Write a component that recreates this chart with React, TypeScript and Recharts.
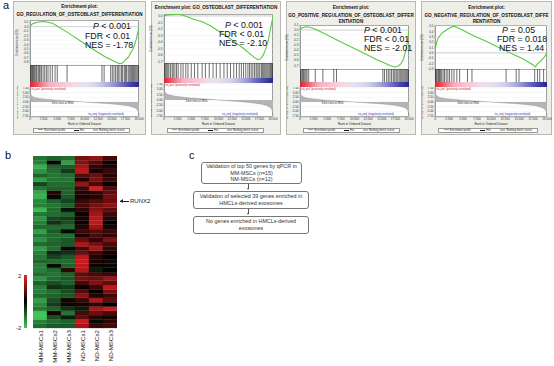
import React from 'react';
import {
  LineChart, Line, XAxis, YAxis, ReferenceLine, AreaChart, Area,
  BarChart, Bar, Cell, CartesianGrid,
} from 'recharts';

// ---------------- DATA ----------------
const rankTicks = [0, 2500, 5000, 7500, 10000, 12500, 15000, 17500, 20000];
const rankYTicks = [7.5, 5, 2.5, 0, -2.5, -5, -7.5];

const rankedMetric: [number, number][] = [
  [0, 7.2], [60, 5.0], [150, 4.0], [350, 3.2], [700, 2.6], [1200, 2.2], [2000, 1.8],
  [3000, 1.5], [4000, 1.2], [5000, 1.0], [6000, 0.8], [7000, 0.6], [8000, 0.4],
  [9000, 0.2], [9950, 0], [11000, -0.2], [12000, -0.4], [13000, -0.6], [14000, -0.8],
  [15000, -1.0], [16000, -1.3], [17000, -1.6], [18000, -2.0], [18800, -2.6],
  [19400, -3.3], [19800, -4.5], [19950, -6.0], [20000, -7.5],
];

const es1: [number, number][] = [
  [0, 0], [150, 0.03], [400, 0.06], [800, 0.08], [1300, 0.1], [2000, 0.11], [2600, 0.115],
  [3300, 0.1], [4200, 0.07], [5200, 0.0], [6500, -0.1], [7800, -0.2], [9000, -0.3],
  [10200, -0.4], [11500, -0.5], [12800, -0.6], [14000, -0.69], [15000, -0.75],
  [15800, -0.8], [16400, -0.83], [16900, -0.82], [17300, -0.78], [17700, -0.72],
  [18100, -0.68], [18500, -0.58], [18900, -0.5], [19200, -0.4], [19500, -0.28],
  [19750, -0.15], [20000, 0.0],
];
const es2: [number, number][] = [
  [0, 0], [400, 0.01], [1200, 0.02], [2500, 0.025], [3500, 0.01], [4500, -0.02],
  [5500, -0.05], [7000, -0.09], [8500, -0.15], [10000, -0.23], [11500, -0.31],
  [13000, -0.4], [14500, -0.49], [15500, -0.56], [16500, -0.63], [17200, -0.67],
  [17700, -0.66], [18200, -0.6], [18700, -0.5], [19100, -0.38], [19500, -0.22],
  [19800, -0.09], [20000, 0],
];
const es3: [number, number][] = [
  [0, 0], [200, 0.03], [600, 0.05], [1100, 0.065], [1600, 0.06], [2500, 0.03],
  [3500, -0.02], [5000, -0.1], [6500, -0.18], [8000, -0.26], [9500, -0.34],
  [11000, -0.42], [12500, -0.5], [14000, -0.58], [15500, -0.65], [16500, -0.7],
  [17300, -0.73], [17900, -0.72], [18400, -0.68], [18900, -0.6], [19300, -0.45],
  [19600, -0.3], [19850, -0.12], [20000, 0],
];
const es4: [number, number][] = [
  [0, 0], [100, 0.1], [300, 0.2], [600, 0.28], [1000, 0.34], [1500, 0.39], [2100, 0.43],
  [2700, 0.47], [3200, 0.49], [3600, 0.49], [5000, 0.42], [6500, 0.34], [8000, 0.27],
  [9500, 0.2], [11000, 0.12], [12500, 0.05], [14000, -0.03], [15500, -0.1],
  [16800, -0.18], [17600, -0.23], [17950, -0.26], [18300, -0.2], [18800, -0.16],
  [19300, -0.1], [19700, -0.05], [20000, 0],
];

const hits1 = [50, 180, 350, 420, 600, 750, 900, 1100, 1250, 1500, 1700, 1850, 2100, 2400,
  2700, 3000, 3300, 3700, 4100, 4600, 5000, 6800, 13200, 13600, 14800, 15100, 15400, 15700,
  16000, 16200, 16500, 16800, 17000, 17300, 17500, 17700, 18000, 18200, 18400, 18600, 18800,
  19000, 19200, 19400, 19600, 19800, 19950];
const hits2 = [100, 300, 500, 700, 900, 1200, 1500, 1700, 2000, 2300, 2600, 3100, 3500, 4000,
  4400, 5000, 5600, 6200, 7000, 7600, 8300, 9000, 9600, 10300, 11000, 11600, 12200, 12800,
  13300, 13800, 14200, 14600, 15000, 15400, 15700, 16000, 16300, 16600, 16900, 17100, 17400,
  17600, 17900, 18100, 18300, 18500, 18700, 18900, 19100, 19300, 19500, 19650, 19800, 19950];
const hits3 = [50, 200, 400, 550, 700, 900, 1100, 1300, 1600, 2800, 4200, 6200, 6700, 15200,
  15500, 15900, 16200, 16500, 16800, 17100, 17300, 17600, 17800, 18000, 18300, 18500, 18700,
  18900, 19100, 19300, 19500, 19700, 19900];
const hits4 = [40, 150, 300, 500, 650, 800, 1000, 1200, 1450, 1700, 2000, 2300, 2600, 3000,
  3400, 3900, 4400, 5800, 6600, 12700, 14500, 15000, 17800, 18300, 18700, 19400];

const esTicks1 = [0.1, 0, -0.1, -0.2, -0.3, -0.4, -0.5, -0.6, -0.7, -0.8];
const esTicks2 = [0, -0.1, -0.2, -0.3, -0.4, -0.5, -0.6, -0.7];
const esTicks3 = [0.1, 0, -0.1, -0.2, -0.3, -0.4, -0.5, -0.6, -0.7];
const esTicks4 = [0.5, 0.4, 0.3, 0.2, 0.1, 0, -0.1, -0.2, -0.3];

const titles1 = ['Enrichment plot:', 'GO_REGULATION_OF_OSTEOBLAST_DIFFERENTIATION'];
const titles2 = ['Enrichment plot: GO_OSTEOBLAST_DIFFERENTIATION'];
const titles3 = ['Enrichment plot:', 'GO_POSITIVE_REGULATION_OF_OSTEOBLAST_DIFFER', 'ENTIATION'];
const titles4 = ['Enrichment plot:', 'GO_NEGATIVE_REGULATION_OF_OSTEOBLAST_DIFFE', 'RENTIATION'];

const stats1 = ['P < 0.001', 'FDR < 0.01', 'NES = -1.78'];
const stats2 = ['P < 0.001', 'FDR < 0.01', 'NES = -2.10'];
const stats3 = ['P < 0.001', 'FDR < 0.01', 'NES = -2.01'];
const stats4 = ['P = 0.05', 'FDR = 0.018', 'NES = 1.44'];

const heatColumns = ['MM-MSCs1', 'MM-MSCs2', 'MM-MSCs3', 'ND-MSCs1', 'ND-MSCs2', 'ND-MSCs3'];
const heatRows: number[][] = [
  [-1.2, -1.0, -1.1, 1.0, 1.2, 0.6],
  [-1.3, -0.1, -1.6, 1.1, 0.7, 0.1],
  [-1.8, -1.0, -0.9, 1.4, 0.4, 0.2],
  [-1.5, -1.1, -0.6, 1.6, 0.2, 0.5],
  [-1.0, -1.2, -1.1, 0.7, 0.9, 0.3],
  [-1.6, -1.2, -1.2, 0.2, 1.0, 0.5],
  [-0.7, -1.1, -1.1, 1.3, 0.6, 0.1],
  [-1.2, -1.0, -1.0, 0.5, 1.8, 0.7],
  [-1.7, 0.3, -1.0, 0.3, 0.4, 0.8],
  [-1.8, -0.1, -0.9, 0.2, 0.3, 1.0],
  [-1.4, -1.0, -0.7, 0.5, 0.7, 0.9],
  [-1.3, -1.2, -1.0, 0.6, 1.0, 1.2],
  [-1.9, -1.1, -0.2, 0.4, 1.1, 0.8],
  [-1.2, -1.1, -1.0, 0.1, 1.4, 0.5],
  [-1.5, -0.7, -0.6, 0.2, 1.5, 0.3],
  [-1.3, -0.5, -0.8, 0.1, 1.6, 0.0],
  [-1.1, -1.1, -1.1, 0.3, 1.3, 0.2],
  [-1.6, -0.9, -0.1, 0.5, 0.7, 0.5],
  [-1.2, -1.1, -1.1, 0.2, 0.6, 0.4],
  [-1.5, -1.1, -0.9, 0.9, 0.4, 1.1],
  [-1.1, -1.0, -0.9, 1.5, 1.0, 0.6],
  [-1.6, -1.1, -0.1, 0.6, 1.4, 0.4],
  [-1.3, -0.4, -0.5, 0.9, 0.5, 0.2],
  [-1.2, -0.7, -0.9, 1.6, 0.3, 0.0],
  [-1.0, -1.1, -1.1, 1.7, 0.2, 0.2],
  [-1.3, -0.1, -1.0, 1.6, 0.1, -0.1],
  [-1.3, -1.1, 0.4, 1.5, -0.3, 0.0],
  [-1.1, -1.2, -1.0, 0.8, 0.6, 0.5],
  [-1.5, -1.1, -0.9, 1.0, 0.9, 1.3],
  [-1.0, -0.8, -1.0, 0.6, 1.1, 0.8],
  [-1.3, -0.5, -0.6, 0.1, 0.5, 1.6],
  [-1.3, -1.1, -0.8, 0.7, 0.0, 1.0],
  [-1.1, -1.0, -0.9, 1.2, 0.3, 0.5],
  [-1.6, -0.8, 0.2, 0.5, 1.5, 0.8],
  [-1.4, -0.6, -0.1, 0.2, 0.4, 0.0],
  [-1.2, -1.0, -0.5, -0.3, 1.4, 1.7],
  [-2.0, 0.2, -1.2, 0.6, 0.9, 0.6],
  [-2.0, -0.8, -0.3, 0.8, 0.3, 0.2],
  [-1.3, -1.1, -1.0, 1.7, -0.1, 0.4],
  [-1.1, -0.9, -0.9, 1.4, 0.5, 0.6],
];
const heatScale = ['2', '-2'];
const markedGene = 'RUNX2';
const markedRow = 10;

const flowSteps = [
  ['Validation of top 50 genes by qPCR in', 'MM-MSCs (n=15)', 'NM-MSCs (n=12)'],
  ['Validation of selected 39 genes enriched in', 'HMCLs-derived exosomes'],
  ['No genes enriched in HMCLs-derived', 'exosomes'],
];

// ---------------- LAYOUT ----------------
const FONT = "'Liberation Sans', Arial, Helvetica, sans-serif";

type Panel = {
  box: { x: number; y: number; w: number; h: number };
  titles: string[]; titleY: number[];
  plotL: number; plotR: number;
  esTop: number; esBot: number; hitBot: number; barBot: number; rankBot: number;
  es: [number, number][]; hits: number[]; esDomain: [number, number]; esTicks: number[];
  stats: string[]; statPos: [number, number][];
};

const panels: Panel[] = [
  {
    box: { x: 13, y: 1, w: 133, h: 134 }, titles: titles1, titleY: [6, 14],
    plotL: 30, plotR: 139, esTop: 20, esBot: 65, hitBot: 82, barBot: 87, rankBot: 117,
    es: es1, hits: hits1, esDomain: [-0.86, 0.15], esTicks: esTicks1,
    stats: stats1, statPos: [[93, 23], [85, 33], [85, 42]],
  },
  {
    box: { x: 151, y: 1, w: 130, h: 134 }, titles: titles2, titleY: [7],
    plotL: 164, plotR: 273, esTop: 14, esBot: 63, hitBot: 78, barBot: 83, rankBot: 117,
    es: es2, hits: hits2, esDomain: [-0.72, 0.03], esTicks: esTicks2,
    stats: stats2, statPos: [[225, 22], [219, 31], [219, 40]],
  },
  {
    box: { x: 286, y: 1, w: 130, h: 134 }, titles: titles3, titleY: [7, 15, 21],
    plotL: 300, plotR: 409, esTop: 25, esBot: 69, hitBot: 82, barBot: 87, rankBot: 117,
    es: es3, hits: hits3, esDomain: [-0.77, 0.1], esTicks: esTicks3,
    stats: stats3, statPos: [[364, 27], [364, 36], [364, 45]],
  },
  {
    box: { x: 421, y: 1, w: 131, h: 134 }, titles: titles4, titleY: [7, 15, 21],
    plotL: 435, plotR: 547, esTop: 25, esBot: 69, hitBot: 82, barBot: 87, rankBot: 117,
    es: es4, hits: hits4, esDomain: [-0.3, 0.52], esTicks: esTicks4,
    stats: stats4, statPos: [[502, 27], [497, 36], [499, 45]],
  },
];

const AW = 14;
const RPAD = 8;
const VPAD = 2;
const STAT_FS = 8.8;
const fmtRank = (v: number) => (v === 0 ? '0' : v.toLocaleString('en-US'));
const rankedData = rankedMetric.map(([rank, score]) => ({ rank, score }));
const flatLine = [{ rank: 0, v: 0 }, { rank: 20000, v: 0 }];

const abs = (x: number, y: number, extra: React.CSSProperties = {}): React.CSSProperties => ({
  position: 'absolute', left: x, top: y, ...extra,
});

function GseaPanel({ p }: { p: Panel }) {
  const pw = p.plotR - p.plotL;
  const esData = p.es.map(([rank, es]) => ({ rank, es }));
  const tickStyle = { fontSize: 3, fill: '#333', fontFamily: FONT };
  return (
    <>
      <div style={abs(p.box.x, p.box.y, {
        width: p.box.w, height: p.box.h, background: '#efefe9',
        border: '0.6px solid #b8b8b0', boxSizing: 'border-box',
      })} />
      {p.titles.map((t, i) => (
        <div key={i} style={abs(p.box.x - 10, p.titleY[i] - 2.5, {
          width: p.box.w + 20, textAlign: 'center', fontSize: 4.6, lineHeight: '5px',
          fontWeight: 'bold', whiteSpace: 'nowrap', color: '#111',
        })}>{t}</div>
      ))}
      {/* plot frame */}
      <div style={abs(p.plotL, p.esTop, {
        width: pw, height: p.rankBot - p.esTop, background: '#fff',
        border: '0.5px solid #999', boxSizing: 'border-box',
      })} />
      <div style={abs(p.plotL, p.esBot, { width: pw, height: 0, borderTop: '0.5px solid #999' })} />
      <div style={abs(p.plotL, p.hitBot, {
        width: pw, height: p.barBot - p.hitBot,
        background: 'linear-gradient(to right, #d9262e 0%, #e8545e 6%, #f08a98 12%, #f3b3c6 18%, #f5c8d6 30%, #efdbe6 40%, #e4e2ef 50%, #d6d4ec 60%, #bcbce2 68%, #9a9ad4 76%, #6e6ec0 84%, #4545a8 92%, #26268e 100%)',
      })} />
      {/* ES */}
      <div style={abs(p.plotL - AW, p.esTop - VPAD)}>
        <LineChart width={pw + AW} height={p.esBot - p.esTop + 2 * VPAD} data={esData}
          margin={{ top: VPAD, right: 0, bottom: VPAD, left: 0 }}>
          <CartesianGrid stroke="#ececec" strokeWidth={0.4} vertical={false} />
          <XAxis type="number" dataKey="rank" domain={[0, 20000]} hide allowDataOverflow />
          <YAxis type="number" width={AW} domain={p.esDomain} ticks={p.esTicks} interval={0}
            tick={tickStyle} tickSize={1} tickMargin={0.5} stroke="#888" strokeWidth={0.4}
            tickFormatter={(v: number) => v.toFixed(1)} allowDataOverflow />
          <ReferenceLine y={0} stroke="#aaa" strokeWidth={0.5} />
          <Line type="linear" dataKey="es" stroke="#5cc843" strokeWidth={1.1} dot={false}
            isAnimationActive={false} />
        </LineChart>
      </div>
      <div style={abs(p.plotL - 13.5, (p.esTop + p.esBot) / 2 - 1.5, {
        width: 0, height: 3, overflow: 'visible',
      })}>
        <div style={{
          transform: 'translate(-50%, 0) rotate(-90deg)', fontSize: 2.6, whiteSpace: 'nowrap',
          color: '#333', lineHeight: '3px', width: 'max-content',
        }}>Enrichment score (ES)</div>
      </div>
      {/* hits */}
      <div style={abs(p.plotL, p.esBot)}>
        <LineChart width={pw} height={p.hitBot - p.esBot} data={flatLine}
          margin={{ top: 0, right: 0, bottom: 0, left: 0 }}>
          <XAxis type="number" dataKey="rank" domain={[0, 20000]} hide />
          <YAxis hide domain={[0, 1]} />
          <Line dataKey="v" stroke="none" dot={false} isAnimationActive={false} />
          {p.hits.map((h) => (
            <ReferenceLine key={h} x={h} stroke="#111" strokeWidth={0.6} />
          ))}
        </LineChart>
      </div>
      {/* ranked metric */}
      <div style={abs(p.plotL - AW, p.barBot)}>
        <AreaChart width={pw + AW + RPAD} height={p.rankBot - p.barBot + 5} data={rankedData}
          margin={{ top: 0, right: RPAD, bottom: 0, left: 0 }}>
          <CartesianGrid stroke="#ececec" strokeWidth={0.4} vertical={false} />
          <XAxis type="number" dataKey="rank" domain={[0, 20000]} ticks={rankTicks} interval={0}
            height={5} tick={tickStyle} tickSize={1} tickMargin={0.3} stroke="#888"
            strokeWidth={0.4} tickFormatter={fmtRank} />
          <YAxis type="number" width={AW} domain={[-8, 8]} ticks={rankYTicks} interval={0}
            tick={tickStyle} tickSize={1} tickMargin={0.5} stroke="#888" strokeWidth={0.4}
            tickFormatter={(v: number) => v.toFixed(2)} />
          <Area type="linear" dataKey="score" stroke="#8a8a8a" strokeWidth={0.4}
            fill="#b4b4b4" fillOpacity={1} isAnimationActive={false} />
        </AreaChart>
      </div>
      <div style={abs(p.plotL - 13.5, (p.barBot + p.rankBot) / 2 - 1.5, {
        width: 0, height: 3, overflow: 'visible',
      })}>
        <div style={{
          transform: 'translate(-50%, 0) rotate(-90deg)', fontSize: 2.4, whiteSpace: 'nowrap',
          color: '#333', lineHeight: '3px', width: 'max-content',
        }}>Ranked list metric (PreRanked)</div>
      </div>
      <div style={abs(p.plotL + 1, p.barBot + 0.5, {
        fontSize: 2.6, color: '#d02020', whiteSpace: 'nowrap', lineHeight: '3px',
      })}>'na_pos' (positively correlated)</div>
      <div style={abs(p.plotL + pw * 0.2, (p.barBot + p.rankBot) / 2 - 0.5, {
        fontSize: 2.6, color: '#222', whiteSpace: 'nowrap', lineHeight: '3px',
      })}>Zero cross at 9950</div>
      <div style={abs(p.plotL + pw * 0.53, p.rankBot - 4, {
        fontSize: 2.6, color: '#2030c0', whiteSpace: 'nowrap', lineHeight: '3px',
      })}>'na_neg' (negatively correlated)</div>
      <div style={abs(p.plotL, p.rankBot + 5.5, {
        width: pw, textAlign: 'center', fontSize: 3, color: '#222', lineHeight: '3px',
      })}>Rank in Ordered Dataset</div>
      {/* legend */}
      <div style={abs(p.plotL + 3, 127.5, {
        width: pw - 12, height: 5, background: '#fff', border: '0.5px solid #999',
        boxSizing: 'border-box', display: 'flex', alignItems: 'center',
        justifyContent: 'space-around', fontSize: 2.6, color: '#222', whiteSpace: 'nowrap',
      })}>
        <span><span style={{ display: 'inline-block', width: 5, height: 0.8, background: '#5cc843', verticalAlign: 'middle', marginRight: 1 }} />Enrichment profile</span>
        <span><span style={{ display: 'inline-block', width: 5, height: 0.5, background: '#111', verticalAlign: 'middle', marginRight: 1 }} />Hits</span>
        <span><span style={{ display: 'inline-block', width: 5, height: 1.5, background: '#bbb', verticalAlign: 'middle', marginRight: 1 }} />Ranking metric scores</span>
      </div>
      {/* stats */}
      {p.stats.map((s, i) => {
        const [x, y] = p.statPos[i];
        const isP = s.startsWith('P ');
        return (
          <div key={i} style={abs(x, y - 1.2, {
            fontSize: STAT_FS, lineHeight: `${STAT_FS}px`, color: '#111', whiteSpace: 'nowrap',
          })}>
            {isP ? (<><i>P</i>{s.slice(1)}</>) : s}
          </div>
        );
      })}
    </>
  );
}

function heatColor(v: number) {
  const t = Math.min(1, Math.abs(v) / 2);
  if (v >= 0) return `rgb(${Math.round(236 * t)},${Math.round(32 * t)},${Math.round(34 * t)})`;
  return `rgb(${Math.round(62 * t)},${Math.round(196 * t)},${Math.round(88 * t)})`;
}

const HM = { x: 33, y: 156, w: 84, h: 172 };
const nRows = heatRows.length;
const heatData = heatColumns.map((name) => {
  const o: Record<string, number | string> = { name };
  heatRows.forEach((_, ri) => { o['r' + ri] = 1; });
  return o;
});

const ColTick = (props: any) => {
  const { x, y, payload } = props;
  const yy = y + 2;
  return (
    <text x={x} y={yy} transform={`rotate(-90, ${x}, ${yy})`} textAnchor="end"
      dominantBaseline="central" fontSize={6.2} fill="#222" fontFamily={FONT}>
      {payload.value}
    </text>
  );
};

function Heatmap() {
  const order = heatRows.map((_, i) => nRows - 1 - i);
  return (
    <div style={abs(HM.x, HM.y)}>
      <BarChart width={HM.w} height={366 - HM.y} data={heatData} barCategoryGap={0} barGap={0}
        margin={{ top: 0, right: 0, bottom: 0, left: 0 }}>
        <XAxis dataKey="name" height={366 - HM.y - HM.h} interval={0} tick={<ColTick />}
          tickLine={false} axisLine={false} tickSize={0} tickMargin={0} />
        <YAxis hide domain={[0, nRows]} />
        {order.map((ri) => (
          <Bar key={ri} dataKey={'r' + ri} stackId="h" isAnimationActive={false}>
            {heatColumns.map((c, ci) => (
              <Cell key={c} fill={heatColor(heatRows[ri][ci])} stroke={heatColor(heatRows[ri][ci])}
                strokeWidth={0.3} />
            ))}
          </Bar>
        ))}
      </BarChart>
    </div>
  );
}

export default function App() {
  const rowH = HM.h / nRows;
  return (
    <div style={{
      position: 'absolute', left: 0, top: 0, width: 554, height: 366, background: '#fff',
      overflow: 'hidden', fontFamily: FONT,
    }}>
      <div style={abs(3, 0, { fontSize: 11, color: '#111', lineHeight: '11px' })}>a</div>
      {panels.map((p, i) => <GseaPanel key={i} p={p} />)}

      <div style={abs(5, 150, { fontSize: 11, color: '#111', lineHeight: '11px' })}>b</div>
      <Heatmap />
      <div style={abs(120, HM.y + (markedRow + 0.5) * rowH - 3, {
        fontSize: 6, color: '#222', lineHeight: '6px', whiteSpace: 'nowrap',
        display: 'flex', alignItems: 'center',
      })}>
        <span style={{ position: 'relative', display: 'inline-block', width: 9, height: 0.6, background: '#222', marginRight: 1 }}>
          <span style={{ position: 'absolute', left: -0.5, top: -1.7, width: 0, height: 0, borderTop: '2px solid transparent', borderBottom: '2px solid transparent', borderRight: '3px solid #222' }} />
        </span>
        {markedGene}
      </div>
      <div style={abs(24, 275, {
        width: 3, height: 53, background: 'linear-gradient(to bottom, #f02020 0%, #000 50%, #3ec858 100%)',
      })} />
      <div style={abs(18, 273, { fontSize: 6, lineHeight: '6px', color: '#222' })}>{heatScale[0]}</div>
      <div style={abs(16, 325, { fontSize: 6, lineHeight: '6px', color: '#222' })}>{heatScale[1]}</div>

      <div style={abs(189, 150, { fontSize: 11, color: '#111', lineHeight: '11px' })}>c</div>
      {[
        { x: 201, y: 162, w: 101, h: 22 },
        { x: 193, y: 191, w: 116, h: 18 },
        { x: 193, y: 216, w: 116, h: 18 },
      ].map((b, i) => (
        <div key={i} style={abs(b.x, b.y, {
          width: b.w, height: b.h, border: '0.7px solid #777', borderRadius: 3,
          boxSizing: 'border-box', display: 'flex', flexDirection: 'column',
          justifyContent: 'center', alignItems: 'center', fontSize: 5.4, lineHeight: '6.6px',
          color: '#333', whiteSpace: 'nowrap', background: '#fff',
        })}>
          {flowSteps[i].map((l, j) => <div key={j}>{l}</div>)}
        </div>
      ))}
      {[184, 209].map((y) => (
        <React.Fragment key={y}>
          <div style={abs(248, y, { width: 0.6, height: 4.5, background: '#555' })} />
          <div style={abs(246.6, y + 4, {
            width: 0, height: 0, borderLeft: '1.7px solid transparent',
            borderRight: '1.7px solid transparent', borderTop: '2.5px solid #555',
          })} />
        </React.Fragment>
      ))}
    </div>
  );
}
